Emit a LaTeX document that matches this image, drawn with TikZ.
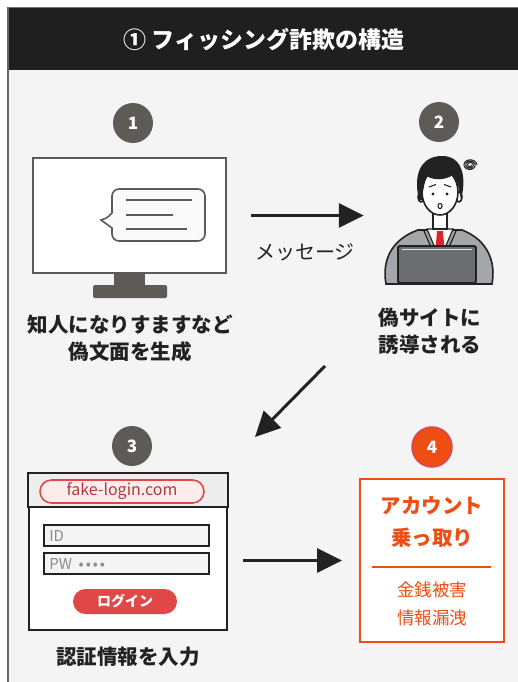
\documentclass[tikz,border=0pt]{standalone}
\usepackage{fontspec}
\setmainfont{Noto Sans CJK JP}
\usetikzlibrary{arrows.meta}

\definecolor{headbg}{HTML}{1F1F1F}
\definecolor{panel}{HTML}{F4F4F4}
\definecolor{badgegray}{HTML}{5E5B57}
\definecolor{ink}{HTML}{222222}
\definecolor{screenline}{HTML}{5A5A5A}
\definecolor{alert}{HTML}{EE4E14}
\definecolor{alertring}{HTML}{D9465A}
\definecolor{btnred}{HTML}{E04848}
\definecolor{urlfill}{HTML}{FDECEC}
\definecolor{urltext}{HTML}{B03A3A}
\definecolor{suit}{HTML}{A4A6A9}
\definecolor{laptop}{HTML}{6C6D70}
\definecolor{tiered}{HTML}{D8262E}

\tikzset{
  badge/.style={circle, fill=badgegray, text=white, minimum size=40pt, inner sep=0pt,
    font=\fontsize{17}{17}\selectfont\bfseries},
  caption/.style={text=ink, align=center, font=\fontsize{20.5}{27}\selectfont\bfseries},
  flow/.style={draw=ink, line width=3pt, -{Triangle[length=25pt,width=24pt]}},
  field/.style={draw=ink, line width=1.8pt, fill=panel, minimum width=165pt,
    minimum height=21pt, inner sep=0pt},
  hint/.style={text=black!45, font=\fontsize{15}{15}\selectfont, inner sep=0pt},
}

\begin{document}
\begin{tikzpicture}[x=1pt,y=-1pt]
\useasboundingbox (0,0) rectangle (518,682);
\fill[white] (0,0) rectangle (518,682);
\fill[panel] (7,70) rectangle (518,682);
\fill[headbg] (7,7) rectangle (518,70);
\draw[black!55, line width=0.8pt] (7,7.4) -- (518,7.4);
\draw[black!60, line width=1.6pt] (7.8,7) -- (7.8,682);
\node[text=white, font=\fontsize{23}{23}\selectfont\bfseries] (title) at (264,40) {① フィッシング詐欺の構造};

% step 1: monitor with message bubble
\node[badge] (n1) at (133,123) {1};
\fill[badgegray] (114,270) rectangle (145,286);
\fill[badgegray, rounded corners=1.5pt] (93,285) rectangle (167,298);
\node[draw=screenline, line width=2.4pt, fill=white, minimum width=193pt, minimum height=115pt] (screen) at (129.5,215.5) {};
\filldraw[draw=screenline, fill=panel!50!white, line width=1.6pt, rounded corners=7pt]
  (112,213) -- (112,189) -- (205,189) -- (205,241) -- (112,241) [sharp corners] -- (112,228)
  .. controls (107,224) .. (101,220) .. controls (107,218) .. (112,213) -- cycle;
\draw[screenline, line width=1.4pt] (126,200) -- (192,200) (126,215) -- (173,215) (126,229) -- (187,229);
\node[caption] (lbl1) at (130,338.5) {知人になりすますなど\\偽文面を生成};

% step 2: person at laptop
\node[badge] (n2) at (439,122) {2};
\node[minimum width=110pt, minimum height=130pt, inner sep=0pt] (person) at (437,220) {};
\begin{scope}[draw=ink, line width=1.6pt]
  \filldraw[fill=suit] (386,284) .. controls (382,262) and (390,240) .. (418,230) -- (462,230)
    .. controls (488,240) and (496,262) .. (492,284) -- cycle;
  \filldraw[fill=white, line width=1.2pt] (427,229) -- (453,229) -- (440,260) -- cycle;
  \fill[tiered] (437,231) -- (443,231) -- (445,256) -- (440,261) -- (435,256) -- cycle;
  \draw[line width=1.2pt] (424,231) -- (434,254) (456,231) -- (446,254);
  \filldraw[fill=white] (433,208) rectangle (447,229);
  \filldraw[fill=white] (421,197) ellipse (3 and 5) (459,197) ellipse (3 and 5);
  \filldraw[fill=white] (440,192) ellipse (18 and 23);
  \fill[ink] (419,200) .. controls (412,170) and (424,156) .. (442,156)
    .. controls (462,156) and (467,176) .. (461,200)
    .. controls (459,188) and (457,180) .. (453,175)
    .. controls (444,181) and (432,180) .. (427,176)
    .. controls (424,184) and (423,190) .. (422,200) -- cycle;
  \fill[ink] (433,194) circle (1.7) (447,194) circle (1.7);
  \draw[line width=1.1pt] (429,187) -- (436,184.5) (444,184.5) -- (451,187);
  \draw[line width=1.1pt] (440,206) ellipse (2 and 2.6);
  \draw[line width=1pt] plot[domain=0:1080, samples=80, variable=\t]
    ({470+(1.5+\t/200)*cos(\t)}, {165+(1.5+\t/200)*0.8*sin(\t)});
  \fill[ink] (461,174) circle (0.9) (458,177) circle (0.9);
  \filldraw[fill=laptop, line width=1.8pt, rounded corners=1.5pt] (398,246) rectangle (476,283);
  \draw[white!80!laptop, line width=1pt] (402,249.5) -- (472,249.5);
\end{scope}
\node[caption] (lbl2) at (430,331) {偽サイトに\\誘導される};

\draw[flow, shorten <=24pt, shorten >=18pt] (screen.east) -- (screen.east -| person.west);
\node[text=ink, font=\fontsize{20}{20}\selectfont] (msg) at (305,252) {メッセージ};

\coordinate (from2) at (325,366);
\coordinate (to2) at (255,437);
\draw[flow] (from2) -- (to2);

% step 3: fake login page
\node[badge] (n3) at (132,446) {3};
\node[draw=ink, line width=2pt, fill=white, minimum width=198pt, minimum height=156pt] (login) at (128,552) {};
\filldraw[fill=black!7, draw=ink, line width=2pt] (login.north west) rectangle ([yshift=-34pt]login.north east);
\node[draw=btnred, fill=urlfill, line width=1.6pt, rounded corners=11.5pt, minimum width=164pt,
  minimum height=23pt, inner sep=0pt, text=urltext, font=\fontsize{16}{16}\selectfont] (url) at (122,491.5) {fake-login.com};
\node[field] (idbox) at (126.5,535.5) {};
\node[hint, anchor=west] (idhint) at ([xshift=6pt]idbox.west) {ID};
\node[field] (pwbox) at (126.5,563.5) {};
\node[hint, anchor=west] (pwhint) at ([xshift=6pt]pwbox.west) {PW\ \ •\kern2pt•\kern2pt•\kern2pt•};
\node[fill=btnred, rounded corners=12.5pt, minimum width=104pt, minimum height=25pt, inner sep=0pt,
  text=white, font=\fontsize{14}{14}\selectfont\bfseries] (loginbtn) at (125,601.5) {ログイン};
\node[caption] (lbl3) at (128,657) {認証情報を入力};

% step 4: result
\node[badge, fill=alert, draw=alertring, line width=1.5pt] (n4) at (432,447) {4};
\node[draw=alert, line width=2pt, fill=white, minimum width=144pt, minimum height=163pt] (card) at (432,560.5) {};
\node[text=alert, align=center, font=\fontsize{20.5}{32}\selectfont\bfseries] (takeover) at (432,522) {アカウント\\乗っ取り};
\draw[alert, line width=1.6pt] (372,567) -- (491,567);
\node[text=alert, align=center, font=\fontsize{17.5}{28}\selectfont] (damage) at (432,604) {金銭被害\\情報漏洩};

\draw[flow, shorten <=15pt, shorten >=17pt] (login.east |- card.west) -- (card.west);
\end{tikzpicture}
\end{document}
